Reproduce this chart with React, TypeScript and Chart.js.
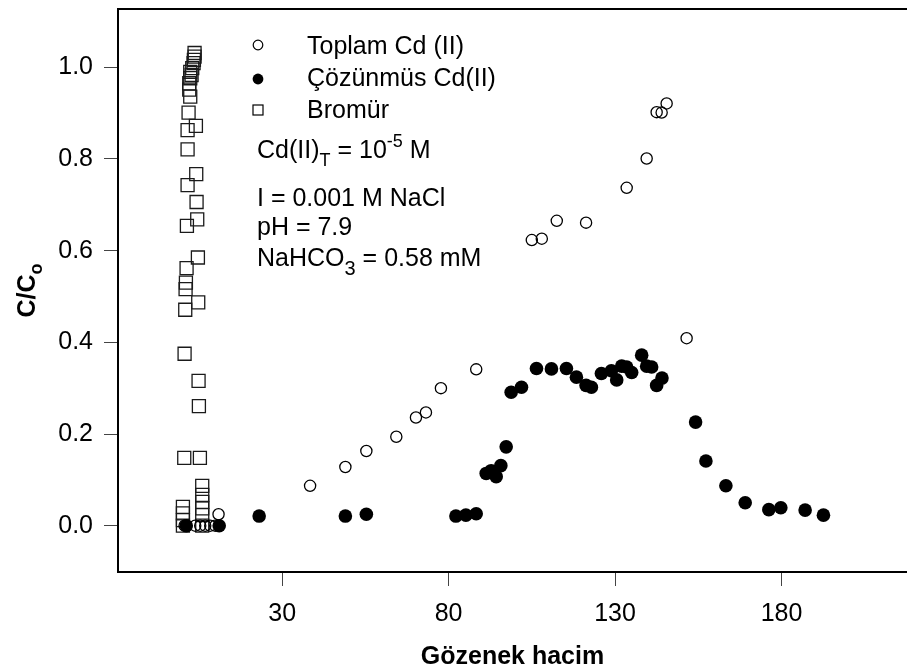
import React, { useEffect, useRef } from 'react';
import { Chart, registerables } from 'chart.js';

Chart.register(...registerables);

// Pore volume (x) vs relative concentration C/Co (y)
const toplamCd: [number, number][] = [
  [0.7, 0], [3.9, 0], [5.4, 0], [6.9, 0], [8.4, 0], [9.9, 0], [10.9, 0.025],
  [38.4, 0.087], [49.0, 0.128], [55.3, 0.163], [64.3, 0.194], [70.2, 0.236],
  [73.2, 0.247], [77.7, 0.3], [88.3, 0.341], [105.0, 0.623], [108.0, 0.626],
  [112.5, 0.665], [121.3, 0.661], [133.5, 0.737], [139.5, 0.801], [142.5, 0.902],
  [144.0, 0.901], [145.5, 0.921], [151.5, 0.409],
];

const cozunmusCd: [number, number][] = [
  [1.2, 0], [11.1, 0], [23.1, 0.021], [49.0, 0.021], [55.3, 0.025], [82.2, 0.021],
  [85.2, 0.023], [88.3, 0.026], [91.3, 0.114], [92.8, 0.12], [94.3, 0.107],
  [95.7, 0.131], [97.3, 0.172], [98.8, 0.291], [101.9, 0.302], [106.4, 0.343],
  [110.9, 0.342], [115.4, 0.343], [118.4, 0.324], [121.3, 0.306], [122.9, 0.302],
  [125.9, 0.332], [128.9, 0.338], [130.5, 0.318], [132.0, 0.348], [133.5, 0.346],
  [135.0, 0.334], [138.0, 0.372], [139.5, 0.348], [141.0, 0.346], [142.5, 0.306],
  [144.1, 0.322], [154.2, 0.226], [157.3, 0.141], [163.3, 0.087], [169.1, 0.05],
  [176.2, 0.035], [179.8, 0.039], [187.1, 0.034], [192.6, 0.023],
];

const bromur: [number, number][] = [
  [3.7, 1.031], [3.7, 1.023], [3.5, 1.016], [3.4, 1.009], [3.0, 0.998], [2.4, 0.99],
  [2.8, 0.983], [2.4, 0.976], [2.1, 0.965], [2.1, 0.951], [2.4, 0.936], [1.9, 0.901],
  [4.1, 0.872], [1.6, 0.863], [1.6, 0.821], [4.2, 0.767], [1.6, 0.743], [4.3, 0.706],
  [4.5, 0.668], [1.4, 0.654], [4.7, 0.585], [1.3, 0.562], [1.1, 0.53], [1.0, 0.516],
  [4.8, 0.487], [0.9, 0.471], [0.7, 0.375], [4.9, 0.316], [5.0, 0.261], [0.6, 0.148],
  [5.3, 0.148], [6.0, 0.087], [6.0, 0.067], [6.0, 0.052], [6.0, 0.038], [6.0, 0.023],
  [6.0, 0], [0.2, 0.041], [0.2, 0.027], [0.2, 0.012], [0.2, 0],
];

const xTicks = [30, 80, 130, 180];
const yTicks = [0, 0.2, 0.4, 0.6, 0.8, 1.0];

const legendLabels = ['Toplam Cd (II)', 'Çözünmüs Cd(II)', 'Bromür'];
const xTitle = 'Gözenek hacim';

type Seg = { t: string; size?: number; dy?: number };
// Experimental conditions block (with sub/superscripts)
const conditionLines: Seg[][] = [
  [{ t: 'Cd(II)' }, { t: 'T', size: 18, dy: 8 }, { t: ' = 10' }, { t: '-5', size: 18, dy: -11 }, { t: ' M' }],
  [{ t: 'I = 0.001 M NaCl' }],
  [{ t: 'pH = 7.9' }],
  [{ t: 'NaHCO' }, { t: '3', size: 20, dy: 9 }, { t: ' = 0.58 mM' }],
];

const FONT = '"Liberation Sans", Arial, Helvetica, sans-serif';
const BASE = 25;

function drawSegs(ctx: CanvasRenderingContext2D, x: number, y: number, segs: Seg[], bold = false) {
  let cx = x;
  for (const s of segs) {
    ctx.font = `${bold ? 'bold ' : ''}${s.size ?? BASE}px ${FONT}`;
    ctx.fillText(s.t, cx, y + (s.dy ?? 0));
    cx += ctx.measureText(s.t).width;
  }
  return cx - x;
}

function segsWidth(ctx: CanvasRenderingContext2D, segs: Seg[], bold = false) {
  let w = 0;
  for (const s of segs) {
    ctx.font = `${bold ? 'bold ' : ''}${s.size ?? BASE}px ${FONT}`;
    w += ctx.measureText(s.t).width;
  }
  return w;
}

const decorPlugin = {
  id: 'decor',
  afterDraw(chart: Chart) {
    const ctx = chart.ctx;
    const a = chart.chartArea;
    ctx.save();
    // top frame line
    ctx.strokeStyle = '#000';
    ctx.lineWidth = 2;
    ctx.beginPath();
    ctx.moveTo(a.left - 1, a.top);
    ctx.lineTo(a.right, a.top);
    ctx.stroke();

    ctx.fillStyle = '#000';
    ctx.textBaseline = 'alphabetic';
    ctx.textAlign = 'left';

    // legend
    const lx = 258;
    const rows = [45, 79, 110];
    const baselines = [54, 86, 118];
    ctx.lineWidth = 1.2;
    ctx.strokeStyle = '#000';
    ctx.beginPath();
    ctx.arc(lx, rows[0], 4.8, 0, Math.PI * 2);
    ctx.stroke();
    ctx.beginPath();
    ctx.arc(lx, rows[1], 5.4, 0, Math.PI * 2);
    ctx.fill();
    ctx.strokeRect(lx - 5, rows[2] - 5, 10, 10);
    ctx.font = `${BASE}px ${FONT}`;
    legendLabels.forEach((l, i) => ctx.fillText(l, 307, baselines[i]));

    // conditions
    const cBase = [158, 206, 235, 266];
    conditionLines.forEach((segs, i) => drawSegs(ctx, 257, cBase[i], segs));

    // x axis title
    ctx.font = `bold ${BASE}px ${FONT}`;
    ctx.textAlign = 'center';
    ctx.fillText(xTitle, (a.left + a.right) / 2, 664);

    // y axis title, rotated
    const ySegs: Seg[] = [{ t: 'C/C' }, { t: 'o', size: 18, dy: 7 }];
    const w = segsWidth(ctx, ySegs, true);
    ctx.translate(35, (a.top + a.bottom) / 2);
    ctx.rotate(-Math.PI / 2);
    ctx.textAlign = 'left';
    drawSegs(ctx, -w / 2, 0, ySegs, true);
    ctx.restore();
  },
};

export default function App() {
  const ref = useRef<HTMLCanvasElement | null>(null);

  useEffect(() => {
    const canvas = ref.current;
    if (!canvas) return;
    const toPts = (arr: [number, number][]) => arr.map(([x, y]) => ({ x, y }));
    const chart = new Chart(canvas, {
      type: 'scatter',
      data: {
        datasets: [
          {
            label: legendLabels[1],
            data: toPts(cozunmusCd),
            pointStyle: 'circle',
            pointRadius: 6.8,
            pointBackgroundColor: '#000',
            pointBorderColor: '#000',
            pointBorderWidth: 0,
          },
          {
            label: legendLabels[0],
            data: toPts(toplamCd),
            pointStyle: 'circle',
            pointRadius: 5.6,
            pointBackgroundColor: 'rgba(255,255,255,0)',
            pointBorderColor: '#000',
            pointBorderWidth: 1.3,
          },
          {
            label: legendLabels[2],
            data: toPts(bromur),
            pointStyle: 'rect',
            pointRadius: 9.2,
            pointBackgroundColor: 'rgba(255,255,255,0)',
            pointBorderColor: '#1a1a1a',
            pointBorderWidth: 1.3,
          },
        ],
      },
      options: {
        responsive: false,
        animation: false,
        events: [],
        layout: { autoPadding: false, padding: { top: 9, right: 0, bottom: 0, left: 0 } },
        plugins: { legend: { display: false }, tooltip: { enabled: false } },
        scales: {
          x: {
            type: 'linear',
            min: -19.3,
            max: 217.7,
            afterFit: (s: any) => {
              s.height = 99;
              s.paddingLeft = 0;
              s.paddingRight = 0;
            },
            afterBuildTicks: (s: any) => { s.ticks = xTicks.map((v) => ({ value: v })); },
            ticks: {
              color: '#000',
              font: { family: FONT, size: BASE },
              padding: 13,
              maxRotation: 0,
              autoSkip: false,
              callback: (v: any) => String(v),
            },
            grid: { drawOnChartArea: false, drawTicks: true, tickLength: 14, color: '#444', lineWidth: 1 },
            border: { display: true, color: '#000', width: 2 },
          },
          y: {
            type: 'linear',
            min: -0.101,
            max: 1.127,
            afterFit: (s: any) => {
              s.width = 118;
              s.paddingTop = 0;
              s.paddingBottom = 0;
            },
            afterBuildTicks: (s: any) => { s.ticks = yTicks.map((v) => ({ value: v })); },
            ticks: {
              color: '#000',
              font: { family: FONT, size: BASE },
              padding: 11,
              autoSkip: false,
              callback: (v: any) => Number(v).toFixed(1),
            },
            grid: { drawOnChartArea: false, drawTicks: true, tickLength: 14, color: '#444', lineWidth: 1 },
            border: { display: true, color: '#000', width: 2 },
          },
        },
      },
      plugins: [decorPlugin],
    });
    return () => chart.destroy();
  }, []);

  return (
    <div style={{ position: 'absolute', left: 0, top: 0, width: 907, height: 671, background: '#fff' }}>
      <canvas ref={ref} width={907} height={671} />
    </div>
  );
}
